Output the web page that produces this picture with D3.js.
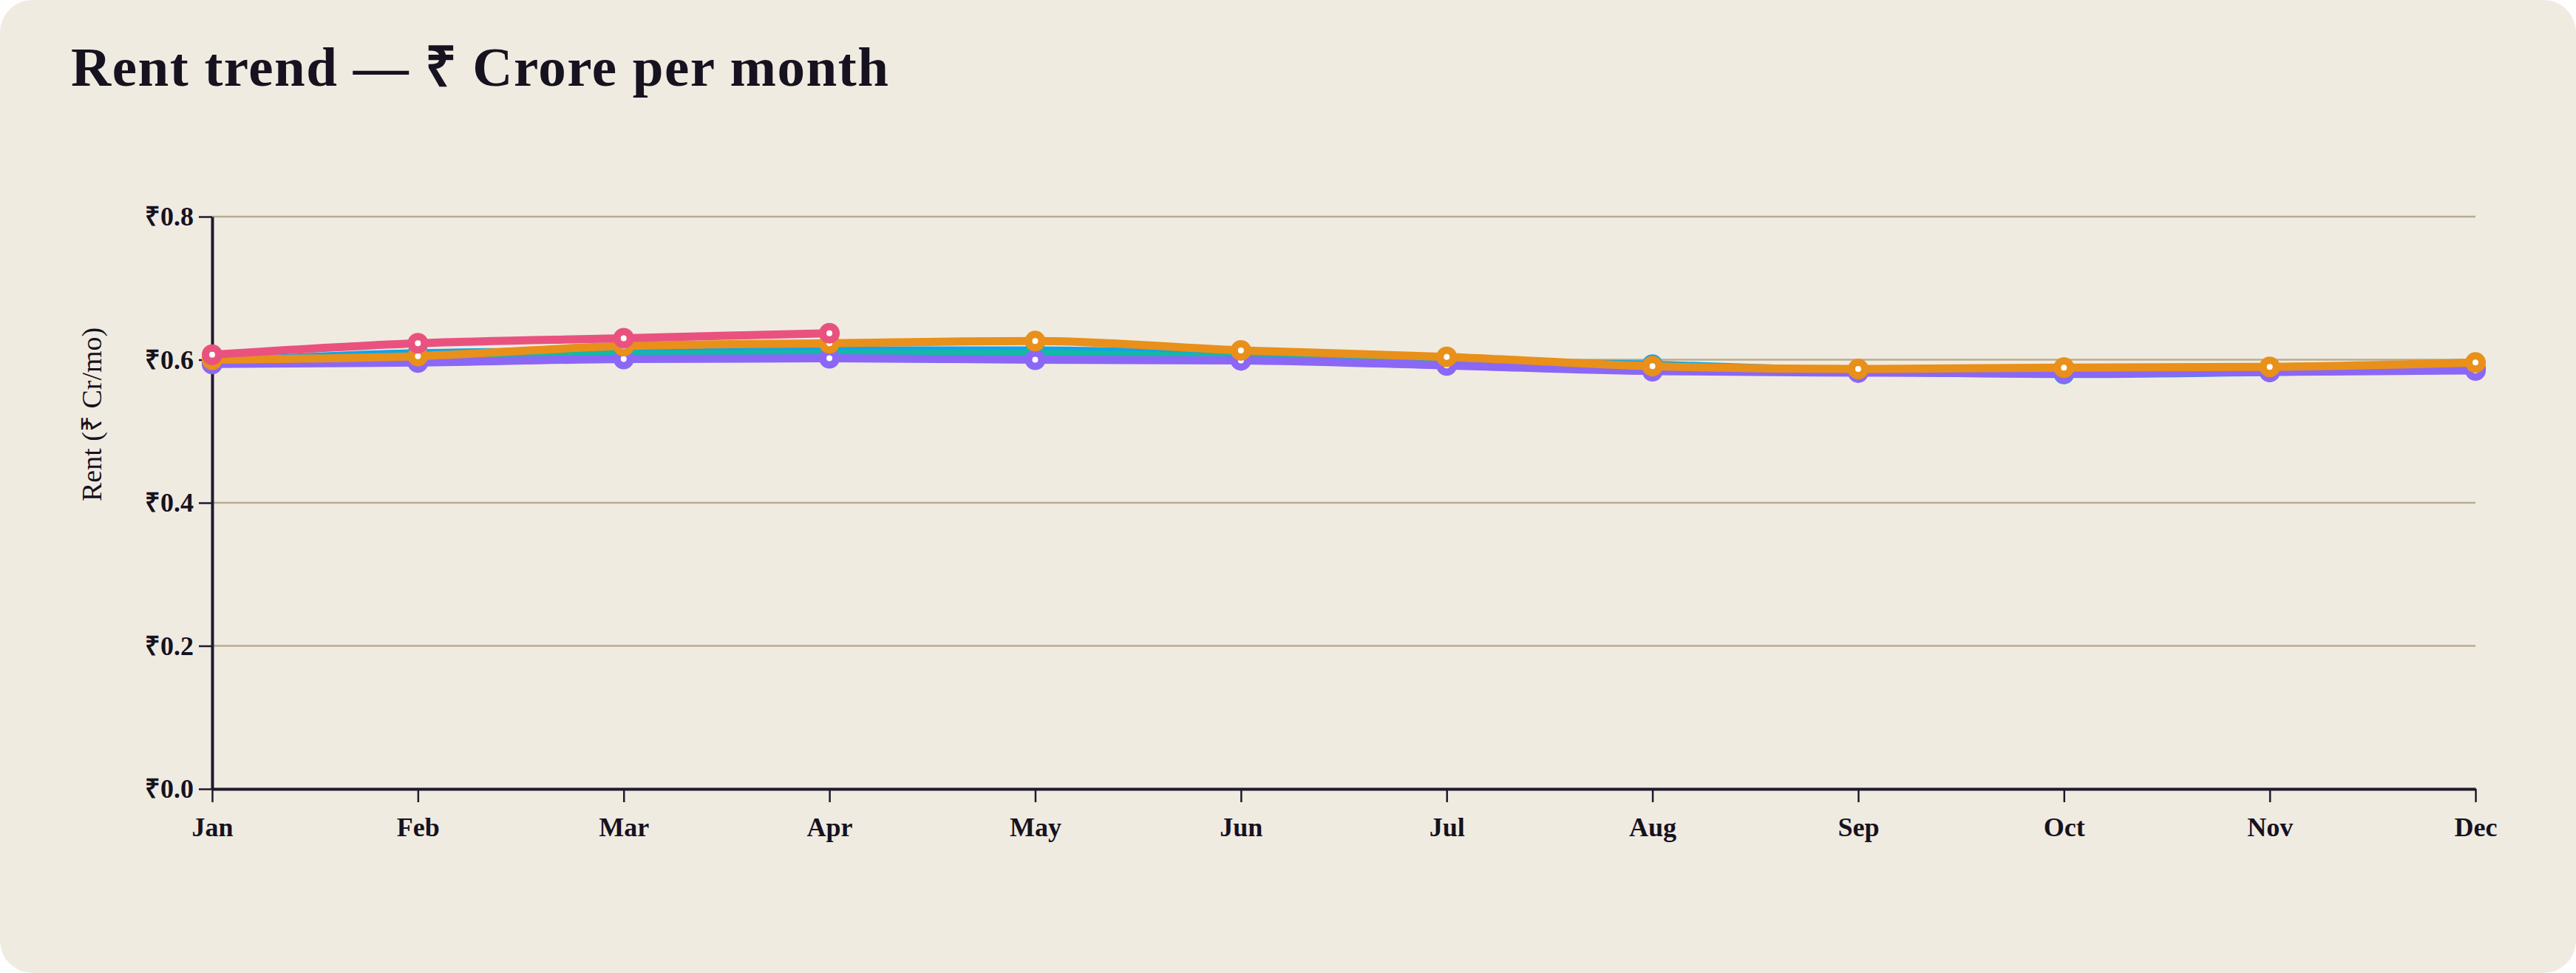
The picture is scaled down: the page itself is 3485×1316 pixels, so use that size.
<!DOCTYPE html>
<html>
<head>
<meta charset="utf-8">
<script src="https://cdn.jsdelivr.net/npm/d3@7"></script>
<style>
  html, body { margin: 0; padding: 0; background: #ffffff; }
  svg { display: block; }
</style>
</head>
<body>
<div id="chart"></div>
<script>
// chart values
var months = ["Jan", "Feb", "Mar", "Apr", "May", "Jun", "Jul", "Aug", "Sep", "Oct", "Nov", "Dec"];
var yTicks = [0, 0.2, 0.4, 0.6, 0.8];

var rentBlue   = [0.597, 0.609, 0.612, 0.613, 0.613, 0.607, 0.597, 0.593, 0.584, 0.580, 0.583, 0.587];
var rentTeal   = [0.595, 0.597, 0.607, 0.608, 0.608, 0.603, 0.598, 0.589, 0.585, 0.583, 0.585, 0.588];
var rentPurple = [0.594, 0.596, 0.601, 0.602, 0.600, 0.599, 0.592, 0.584, 0.582, 0.581, 0.583, 0.585];
var rentOrange = [0.600, 0.605, 0.619, 0.623, 0.626, 0.613, 0.604, 0.591, 0.587, 0.589, 0.590, 0.596];
var rentPink   = [0.607, 0.623, 0.630, 0.637];

var seriesNames  = ["blue", "teal", "purple", "orange", "pink"];
var seriesValues = [rentBlue, rentTeal, rentPurple, rentOrange, rentPink];
var seriesColors = ["#0ea5e9", "#14b8a6", "#8b67f5", "#e8901a", "#e9527f"];

var W = 3485, H = 1316;
var margin = {top: 293, right: 136, bottom: 249, left: 287};
var width = W - margin.left - margin.right,
    height = H - margin.top - margin.bottom;

var svg = d3.select("#chart").append("svg")
    .attr("width", W)
    .attr("height", H);

// card background
svg.append("rect")
    .attr("width", W)
    .attr("height", H)
    .attr("rx", 44)
    .attr("fill", "#f0ebe1");

svg.append("text")
    .attr("x", 96)
    .attr("y", 116)
    .style("font-family", "'Liberation Serif', serif")
    .style("font-weight", "bold")
    .style("font-size", "75px")
    .style("letter-spacing", "1.5px")
    .style("fill", "#16121f")
    .text("Rent trend \u2014 \u20B9 Crore per month");

var x = d3.scalePoint().domain(months).range([0, width]);
var y = d3.scaleLinear().domain([0, 0.8]).range([height, 0]);

var g = svg.append("g")
    .attr("transform", "translate(" + margin.left + "," + margin.top + ")");

// gridlines
g.selectAll(".grid")
    .data(yTicks.filter(function(d) { return d > 0; }))
    .enter().append("line")
    .attr("class", "grid")
    .attr("x1", 0)
    .attr("x2", width)
    .attr("y1", function(d) { return y(d); })
    .attr("y2", function(d) { return y(d); })
    .attr("stroke", "#b8ad8f")
    .attr("stroke-width", 2.5);

var yAxis = g.append("g")
    .call(d3.axisLeft(y).tickValues(yTicks).tickSize(18).tickSizeOuter(0).tickPadding(7)
        .tickFormat(function(d) { return "\u20B9" + d3.format(".1f")(d); }));

var xAxis = g.append("g")
    .attr("transform", "translate(0," + height + ")")
    .call(d3.axisBottom(x).tickSize(18).tickSizeOuter(0).tickPadding(20));

[yAxis, xAxis].forEach(function(a) {
    a.select(".domain").attr("stroke", "#1e1a2e").attr("stroke-width", 4);
    a.selectAll(".tick line").attr("stroke", "#1e1a2e").attr("stroke-width", 2.5);
    a.selectAll(".tick text")
        .style("font-family", "'Liberation Serif', serif")
        .style("font-weight", "bold")
        .style("font-size", "36px")
        .style("fill", "#16121f");
});

svg.append("text")
    .attr("transform", "translate(137,678) rotate(-90)")
    .attr("text-anchor", "start")
    .style("font-family", "'Liberation Serif', serif")
    .style("font-size", "38px")
    .style("fill", "#16121f")
    .text("Rent (\u20B9 Cr/mo)");

var line = d3.line()
    .x(function(d) { return x(d.month); })
    .y(function(d) { return y(d.value); })
    .curve(d3.curveMonotoneX);

var series = seriesNames.map(function(name, i) {
    return {
        name: name,
        color: seriesColors[i],
        points: seriesValues[i].map(function(v, j) { return {month: months[j], value: v}; })
    };
});

var layer = g.selectAll(".series")
    .data(series)
    .enter().append("g")
    .attr("class", "series");

layer.append("path")
    .attr("fill", "none")
    .attr("stroke", function(d) { return d.color; })
    .attr("stroke-width", 11)
    .attr("stroke-linejoin", "round")
    .attr("stroke-linecap", "round")
    .attr("d", function(d) { return line(d.points); });

layer.each(function(s) {
    d3.select(this).selectAll("circle")
        .data(s.points)
        .enter().append("circle")
        .attr("cx", function(d) { return x(d.month); })
        .attr("cy", function(d) { return y(d.value); })
        .attr("r", 9)
        .attr("fill", "#ffffff")
        .attr("stroke", s.color)
        .attr("stroke-width", 10);
});
</script>
</body>
</html>
